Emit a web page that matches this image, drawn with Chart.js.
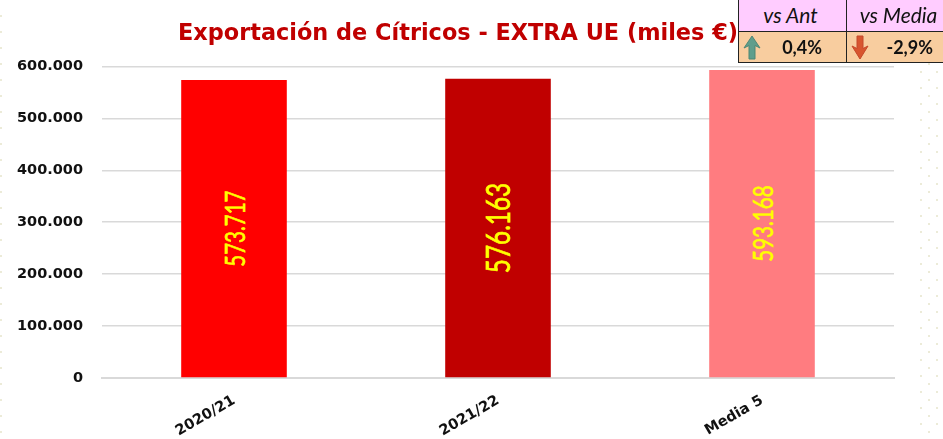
<!DOCTYPE html>
<html>
<head>
<meta charset="utf-8">
<title>Exportación de Cítricos</title>
<script src="https://cdn.jsdelivr.net/npm/chart.js@4/dist/chart.umd.min.js"></script>
<style>
	html, body { margin: 0; padding: 0; background: #fff; overflow: hidden; }
	#wrap { position: relative; width: 943px; height: 439px; overflow: hidden; }
	#myChart { position: absolute; left: 0; top: 0; }
	.dots { position: absolute; background-image: radial-gradient(circle, #ecebd8 1.1px, transparent 1.4px); background-size: 16px 16px; }
	#dotsL { left: -7px; top: 8px; width: 10px; height: 431px; }
	#dotsR1 { left: 913px; top: 64px; width: 30px; height: 375px; }
	#dotsR2 { left: 921px; top: 56px; width: 22px; height: 383px; }
	#tabla { position: absolute; left: 738px; top: -1px; border-collapse: collapse; table-layout: fixed; width: 206px; font-family: Lato, sans-serif; color: #111; }
	#tabla td { border: 1px solid #222; padding: 0; text-align: center; overflow: hidden; }
	#tabla .head td { background: #ffccff; font-style: italic; font-size: 21px; height: 31px; }
	#tabla .head span { position: relative; left: -2px; top: -1px; }
	#tabla .head td + td span { left: 3px; }
	#tabla .vals td { background: #f8cd9f; font-weight: bold; font-size: 18px; height: 30px; position: relative; }
	#tabla svg { position: absolute; left: 4px; top: 3px; }
	#tabla .vals span { position: absolute; top: 4px; right: 24px; }
	#tabla .vals td + td span { right: 11px; }
</style>
</head>
<body>
<div id="wrap">
	<div class="dots" id="dotsL"></div>
	<div class="dots" id="dotsR1"></div>
	<div class="dots" id="dotsR2"></div>
	<canvas id="myChart" width="916" height="439"></canvas>
	<table id="tabla">
		<colgroup><col style="width:108px"><col style="width:98px"></colgroup>
		<tr class="head"><td><span>vs Ant</span></td><td><span>vs Media</span></td></tr>
		<tr class="vals">
			<td><svg width="18" height="25" viewBox="0 0 18 25"><path d="M9 1 L17 13 L12 10.5 L12 24 L6 24 L6 10.5 L1 13 Z" fill="#5f9e8c" stroke="#4d8775"/></svg><span>0,4%</span></td>
			<td><svg width="18" height="25" viewBox="0 0 18 25"><path d="M6 1 L12 1 L12 13.5 L17 11 L9 24 L1 11 L6 13.5 Z" fill="#d8552f" stroke="#c4492a"/></svg><span>-2,9%</span></td>
		</tr>
	</table>
</div>
<script>
var categories = ["2020/21", "2021/22", "Media 5"]
var values = [573717, 576163, 593168]
var valueLabels = ["573.717", "576.163", "593.168"]
var barColors = ["#ff0000", "#c00000", "#ff7c80"]
var labelSizes = [27, 32, 27]
var yTicks = ["0", "100.000", "200.000", "300.000", "400.000", "500.000", "600.000"]

// vertical labels in the middle of each bar, squeezed along the text
var barLabels = {
	id: "barLabels",
	afterLayout: function(chart){
		// centre the title on the whole canvas, not on the padded area
		chart.titleBlock.right = chart.width
	},
	afterDatasetsDraw: function(chart){
		var ctx = chart.ctx
		var meta = chart.getDatasetMeta(0)
		meta.data.forEach(function(bar, i){
			ctx.save()
			ctx.translate(bar.x + 2, (bar.y + bar.base) / 2)
			ctx.rotate(-Math.PI / 2)
			ctx.scale(0.76, 1)
			ctx.font = labelSizes[i] + "px Lato, sans-serif"
			ctx.fillStyle = "#ffff00"
			ctx.strokeStyle = "#ffff00"
			ctx.lineWidth = 0.7
			ctx.textAlign = "center"
			ctx.textBaseline = "middle"
			ctx.fillText(valueLabels[i], 0, 0)
			ctx.strokeText(valueLabels[i], 0, 0)
			ctx.restore()
		})
	}
}

var chart = new Chart(document.getElementById("myChart").getContext("2d"), {
	type: "bar",
	data: {
		labels: categories,
		datasets: [{
			data: values,
			backgroundColor: barColors,
			barPercentage: 0.4,
			categoryPercentage: 1
		}]
	},
	options: {
		responsive: false,
		animation: false,
		layout: { padding: { left: 0, right: 22, top: 0, bottom: 0 } },
		plugins: {
			legend: { display: false },
			tooltip: { enabled: false },
			title: {
				display: true,
				text: "Exportación de Cítricos - EXTRA UE (miles €)",
				color: "#c00000",
				font: { family: "DejaVu Sans", size: 22.4, weight: "bold" },
				padding: { top: 21, bottom: 18.5 }
			}
		},
		scales: {
			x: {
				grid: { display: false },
				border: { color: "#d9d9d9", width: 2 },
				afterFit: function(axis){ axis.height = 61 },
				ticks: {
					color: "#111",
					font: { family: "DejaVu Sans", size: 14.5, weight: "bold" },
					minRotation: 30,
					maxRotation: 30,
					padding: 6
				}
			},
			y: {
				min: 0,
				max: 600000,
				afterFit: function(axis){ axis.width = 102 },
				grid: { color: "#d9d9d9", lineWidth: 1.5, drawTicks: false },
				border: { display: false },
				ticks: {
					stepSize: 100000,
					color: "#111",
					padding: 19,
					font: { family: "DejaVu Sans", size: 14.5, weight: "bold" },
					callback: function(value){ return yTicks[value / 100000] }
				}
			}
		}
	},
	plugins: [barLabels]
})
</script>
</body>
</html>
